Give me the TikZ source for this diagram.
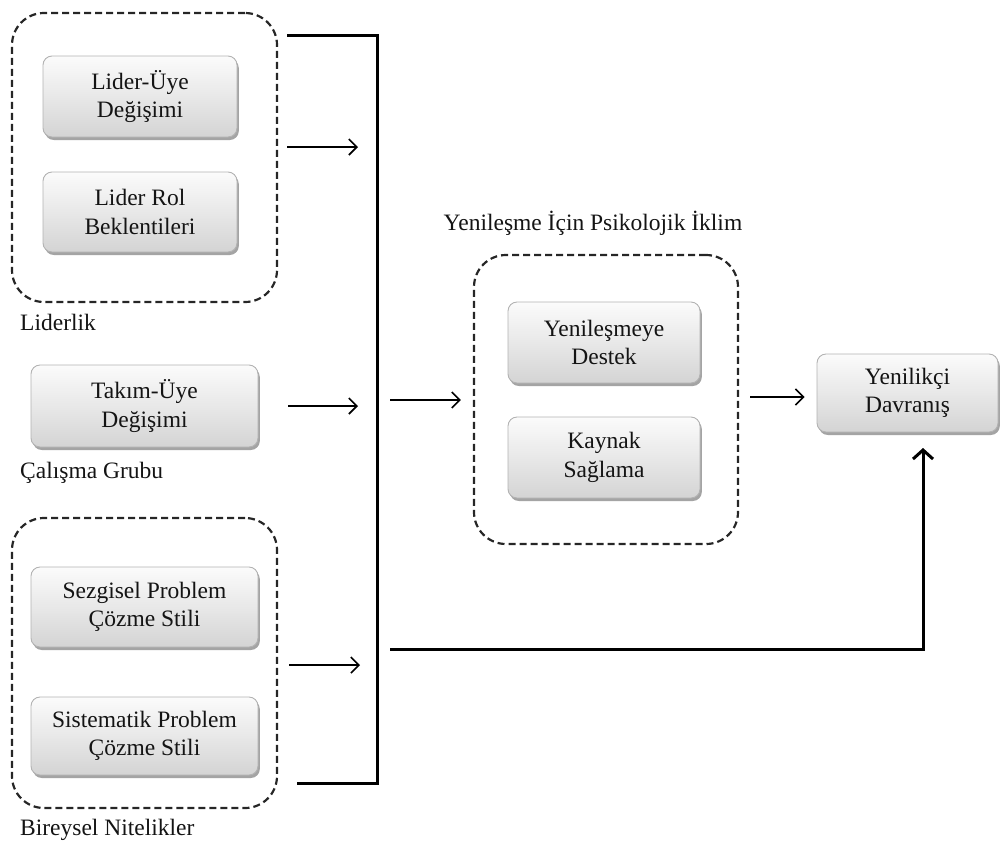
\documentclass[tikz,border=0pt]{standalone}
\usepackage{fontspec}
\setmainfont{Liberation Serif}
\newfontfamily\tnr{Liberation Serif}
\usetikzlibrary{arrows.meta,shadows}
\begin{document}
\begin{tikzpicture}[x=1pt,y=-1pt,
  box/.style={rectangle, rounded corners=9pt, draw=gray!60, line width=0.9pt,
    top color=gray!3, bottom color=gray!34, middle color=gray!18,
    drop shadow={shadow xshift=1.8pt, shadow yshift=-3pt, opacity=0.55, fill=gray!70!black},
    align=center, font=\tnr\fontsize{23.5}{28.5}\selectfont, text=black!92, inner sep=0pt},
  grp/.style={rectangle, rounded corners=32pt, draw=black!85, dash pattern=on 7pt off 4pt,
    line width=2.2pt, inner sep=0pt},
  lbl/.style={font=\tnr\fontsize{23.5}{26}\selectfont, text=black!92, inner sep=0pt},
  arr/.style={line width=1.6pt, -{Straight Barb[length=8pt,width=16pt,line width=1.6pt]}},
  brk/.style={line width=3pt, line join=miter},
  bigarr/.style={line width=3pt, line join=miter, -{Straight Barb[length=9pt,width=20pt,line width=3pt]}},
]
\useasboundingbox (0,0) rectangle (1004,844);

% dashed group frames
\node[grp, minimum width=265pt, minimum height=289pt] (g1) at (144.5,157.5) {};
\node[grp, minimum width=265pt, minimum height=290pt] (g2) at (144.5,663) {};
\node[grp, minimum width=264pt, minimum height=289pt] (g3) at (606,399.5) {};

% boxes
\node[box, minimum width=194pt, minimum height=81pt] (lu) at (140,96.5) {Lider-Üye\\Değişimi};
\node[box, minimum width=194pt, minimum height=80pt] (lr) at (140,212) {Lider Rol\\Beklentileri};
\node[box, minimum width=227pt, minimum height=82pt] (tu) at (144.5,406) {Takım-Üye\\Değişimi};
\node[box, minimum width=227pt, minimum height=80pt] (sz) at (144.5,607) {Sezgisel Problem\\Çözme Stili};
\node[box, minimum width=227pt, minimum height=78pt] (ss) at (144.5,736) {Sistematik Problem\\Çözme Stili};
\node[box, minimum width=192pt, minimum height=81pt] (yd) at (604,342.5) {Yenileşmeye\\Destek};
\node[box, minimum width=192pt, minimum height=81pt] (ks) at (604,457.5) {Kaynak\\Sağlama};
\node[box, minimum width=181pt, minimum height=78pt] (yb) at (907.5,393) {Yenilikçi\\Davranış};

% labels
\node[lbl, anchor=west] (l1) at (20,322) {Liderlik};
\node[lbl, anchor=west] (l2) at (20,473) {Çalışma Grubu};
\node[lbl, anchor=west] (l3) at (20,830) {Bireysel Nitelikler};
\node[lbl] (t3) at (593,223) {Yenileşme İçin Psikolojik İklim};

% coordinates for connectors
\coordinate (bt) at (287,35);
\coordinate (bc) at (377,783);
\coordinate (bb) at (297,783);
\coordinate (a1s) at (287,147);  \coordinate (a1e) at (358,147);
\coordinate (a2s) at (288,406);  \coordinate (a2e) at (358,406);
\coordinate (a3s) at (289,665);  \coordinate (a3e) at (360,665);
\coordinate (a4s) at (390,400);
\coordinate (a5s) at (750,397);
\coordinate (ms) at (390,649);
\coordinate (ue) at (923,448);

% bracket
\draw[brk] (bt) -| (bc) -- (bb);

% arrows
\draw[arr] (a1s) -- (a1e);
\draw[arr] (a2s) -- (a2e);
\draw[arr] (a3s) -- (a3e);
\draw[arr] (a4s) -- ([xshift=-12pt]a4s -| g3.west);
\draw[arr] (a5s) -- ([xshift=-12pt]a5s -| yb.west);
\draw[bigarr] (ms) -| (ue);
\end{tikzpicture}
\end{document}
